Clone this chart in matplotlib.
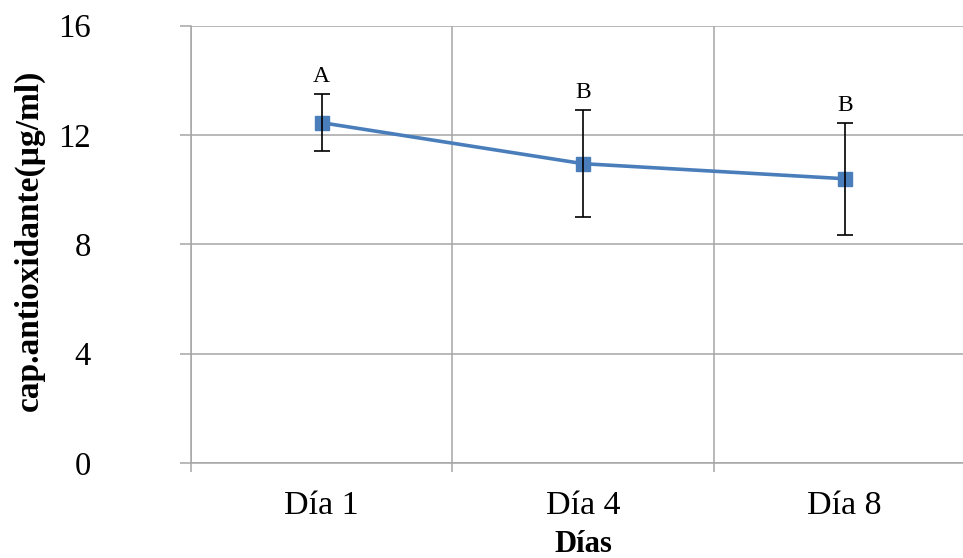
import matplotlib
matplotlib.use("Agg")
import matplotlib.pyplot as plt
from matplotlib.ticker import FixedLocator

plt.rcParams['font.family'] = ['Liberation Serif', 'DejaVu Serif']

# Data
dias = ["Día 1", "Día 4", "Día 8"]
capacidad = [12.45, 10.95, 10.40]
error = [1.05, 1.95, 2.05]
letras = ["A", "B", "B"]
y_ticks = [0, 4, 8, 12, 16]

line_color = "#4A7EBB"
grid_color = "#A6A6A6"

fig = plt.figure(figsize=(9.63, 5.58), dpi=100)
ax = fig.add_axes([0.1983, 0.1703, 0.8146, 0.7837])

x = list(range(1, len(dias) + 1))
ax.plot(x, capacidad, color=line_color, lw=2.6, marker="s", ms=9.5,
        mfc=line_color, mec=line_color, zorder=3)
ax.errorbar(x, capacidad, yerr=error, fmt="none", ecolor="black",
            elinewidth=1.2, capsize=6, capthick=1.2, zorder=4)

for xi, yi, ei, lt in zip(x, capacidad, error, letras):
    ax.annotate(lt, (xi, yi + ei), xytext=(0, 5), textcoords="offset points",
                ha="center", va="bottom", fontsize=17)

ax.set_xlim(0.5, 3.5)
ax.set_ylim(0, 16)

ax.yaxis.set_major_locator(FixedLocator(y_ticks))
ax.set_yticklabels([str(v) for v in y_ticks], fontsize=23.5)
ax.set_xticks(x)
ax.set_xticklabels(dias, fontsize=24.5)
ax.xaxis.set_minor_locator(FixedLocator([0.5, 1.5, 2.5, 3.5]))

ax.tick_params(axis="x", which="major", length=0, pad=20)
ax.tick_params(axis="x", which="minor", length=6.5, width=1.1, color=grid_color)
ax.tick_params(axis="y", which="major", length=8, width=1.1, color=grid_color, pad=64)

ax.grid(axis="y", which="major", color=grid_color, lw=1.1)
ax.grid(axis="x", which="minor", color=grid_color, lw=1.1)
ax.set_axisbelow(True)

for side in ("top", "right"):
    ax.spines[side].set_visible(False)
for side in ("left", "bottom"):
    ax.spines[side].set_color(grid_color)
    ax.spines[side].set_linewidth(1.1)

ax.set_ylabel("cap.antioxidante(µg/ml)", fontsize=24, fontweight="bold")
ax.yaxis.set_label_coords(-0.186, 0.51)
ax.set_xlabel("Días", fontsize=22, fontweight="bold", labelpad=6.5)

fig.savefig("out.png", dpi=100)
